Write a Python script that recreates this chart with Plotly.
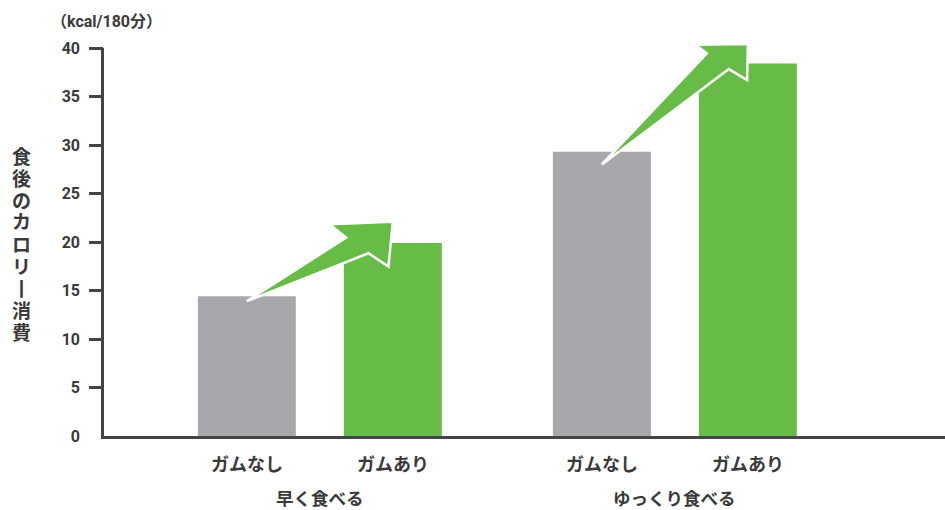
import plotly.graph_objects as go

# Calories burned after a meal, by eating speed, with and without chewing gum
groups = ["早く食べる", "ゆっくり食べる"]
series_names = ["ガムなし", "ガムあり"]
no_gum = [14.4, 29.3]
with_gum = [19.9, 38.4]

y_ticks = [0, 5, 10, 15, 20, 25, 30, 35, 40]
unit_label = "（kcal/180分）"
y_title = "食後のカロリー消費"

# arrows: start just under the "no gum" bar top, end just above the "with gum" bar top
arrow_start = [13.9, 28.0]
arrow_end = [22.1, 40.4]
# arrowhead outline (pixel offsets from the tip: upper barb, upper notch, lower notch, lower barb)
arrow_heads = [
    [(-63.4, 2.6), (-46.7, 16.0), (-24.4, 31.6), (-4.4, 45.0)],
    [(-52.4, 0.6), (-41.0, 9.3), (-19.0, 25.0), (-0.7, 36.0)],
]

GRAY = "#a7a8ab"
GREEN = "#66bc46"
AXIS = "#444444"
TEXT = "#3a3a3a"
FONT = "Roboto, 'Noto Sans CJK JP', sans-serif"

W, H = 945, 510
ML, MR, MT, MB = 104, 0, 48, 74
PW, PH = W - ML - MR, H - MT - MB
XMIN, XMAX = -0.608, 1.761
YMIN, YMAX = 0, 40
OFFSET = 0.2056
BAR_W = 0.276

x_pos = list(range(len(groups)))
x_no = [g - OFFSET for g in x_pos]
x_with = [g + OFFSET for g in x_pos]

fig = go.Figure()
fig.add_trace(go.Bar(x=x_no, y=no_gum, width=BAR_W, marker=dict(color=GRAY, line_width=0),
                     name=series_names[0], hoverinfo="skip", yaxis="y"))
# second series sits on the overlaid axis that carries the tick marks
fig.add_trace(go.Bar(x=x_with, y=with_gum, width=BAR_W, marker=dict(color=GREEN, line_width=0),
                     name=series_names[1], hoverinfo="skip", yaxis="y2"))


def to_paper(x, y):
    return (x - XMIN) / (XMAX - XMIN), (y - YMIN) / (YMAX - YMIN)


shapes = []
for i in range(len(groups)):
    tx, ty = to_paper(x_no[i], arrow_start[i])
    hx, hy = to_paper(x_with[i], arrow_end[i])
    head = [(hx + dx / PW, hy - dy / PH) for dx, dy in arrow_heads[i]]
    ub, un, ln, lb = head
    pts = [(tx, ty), un, ub, (hx, hy), lb, ln]
    path = "M " + " L ".join(f"{px:.5f},{py:.5f}" for px, py in pts) + " Z"
    shapes.append(dict(type="path", path=path, xref="paper", yref="paper",
                       fillcolor=GREEN, line=dict(color="white", width=2.5), layer="above"))

annotations = []
# labels under each bar, then the group label
for i in range(len(groups)):
    for xv, name in ((x_no[i], series_names[0]), (x_with[i], series_names[1])):
        annotations.append(dict(x=xv, y=0, xref="x", yref="paper", text=name, showarrow=False,
                                yanchor="middle", yshift=-28.5,
                                font=dict(family=FONT, size=18, color=TEXT, weight="bold")))
    annotations.append(dict(x=x_pos[i], y=0, xref="x", yref="paper", text=groups[i], showarrow=False,
                            yanchor="middle", yshift=-63,
                            font=dict(family=FONT, size=17.5, color=TEXT, weight="bold")))

# unit label above the y axis
annotations.append(dict(x=(106 - ML) / PW, y=1, xref="paper", yref="paper", text=unit_label,
                        showarrow=False, xanchor="center", yanchor="middle", yshift=26.5,
                        font=dict(family=FONT, size=16, color=TEXT, weight="bold")))

# vertical axis title, one character per line (long vowel mark drawn upright)
for k, ch in enumerate(y_title):
    glyph = "丨" if ch == "ー" else ch
    cy = 157 + 22 * k
    annotations.append(dict(x=(21 - ML) / PW, y=(MT + PH - cy) / PH, xref="paper", yref="paper",
                            text=glyph, showarrow=False, xanchor="center", yanchor="middle",
                            font=dict(family=FONT, size=19, color=TEXT, weight="bold")))

fig.update_layout(
    width=W, height=H,
    margin=dict(l=ML, r=MR, t=MT, b=MB, pad=0),
    paper_bgcolor="white", plot_bgcolor="white",
    showlegend=False, barmode="overlay",
    xaxis=dict(range=[XMIN, XMAX], showline=True, linecolor=AXIS, linewidth=2.5,
               showticklabels=False, ticks="", showgrid=False, zeroline=False, fixedrange=True),
    yaxis=dict(range=[YMIN, YMAX], tickvals=y_ticks, ticktext=[str(v) for v in y_ticks],
               ticks="", showline=True, linecolor=AXIS, linewidth=2.5, ticklabelstandoff=18,
               showgrid=False, zeroline=False, fixedrange=True,
               tickfont=dict(family=FONT, size=16, color=TEXT, weight="bold")),
    yaxis2=dict(range=[YMIN, YMAX], overlaying="y", side="left", anchor="x",
                tickvals=y_ticks[1:], ticks="outside", ticklen=14, tickwidth=2.5, tickcolor=AXIS,
                showticklabels=False, showline=False, showgrid=False, zeroline=False, fixedrange=True),
    shapes=shapes,
    annotations=annotations,
)

fig.write_html("out.html")
